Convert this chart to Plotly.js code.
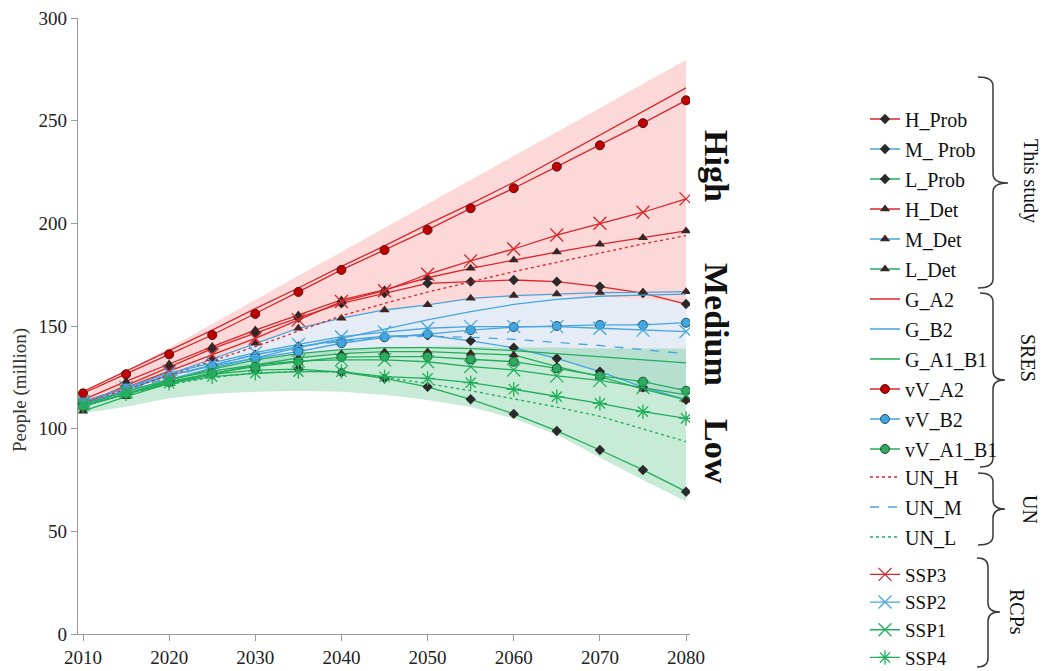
<!DOCTYPE html>
<html>
<head>
<meta charset="utf-8">
<script src="https://cdn.plot.ly/plotly-3.0.1.min.js"></script>
<style>html,body{margin:0;padding:0;background:#fff;}#chart{width:1042px;height:671px;}</style>
</head>
<body>
<div id="chart"></div>
<script>
// ---------- data ----------
const years = [2010,2015,2020,2025,2030,2035,2040,2045,2050,2055,2060,2065,2070,2075,2080];

const H_Prob   = [112,121,130,139,146.5,154,161,166,170.8,171.6,172.4,171.6,169.2,166,160.7];
const M_Prob   = [112,119,126,131,136,140,143,145,145.5,142.8,139.4,134.2,127.8,120.2,114];
const L_Prob   = [111,117,122.5,126.5,128.5,129,127.5,124.5,120.4,114.3,107.2,98.9,89.6,79.9,69.3];
const H_Det    = [114,123,131.5,140,148,155.4,162.7,167.6,173.5,178.1,182.2,186,189.8,193,196.3];
const M_Det    = [111,118.5,126.5,134,141.6,148.9,153.8,157.8,160.3,163.5,164.8,165.6,166.3,166.4,166.7];
const L_Det    = [108.5,115.6,122,126.5,131,134.5,136.5,137.5,137.5,136.7,135.9,130.2,125.3,119.2,114];
const G_A2     = [118,128,138,148,158.5,168.5,179,189,199.5,209.5,220,231.5,243,254.5,266];
const G_B2     = [112,118,124,129.5,134.5,139.5,144,148.5,153,157,160.5,163,164.5,165,165.5];
const G_A1_B1  = [111,117,123.5,129,133.5,136.5,138.5,139.5,139.5,139,138,136.5,135,133.5,132];
const vV_A2    = [117.2,126.5,136.2,145.6,155.9,166.6,177.3,187,196.8,207.3,217.1,227.6,238,248.8,259.9];
const vV_B2    = [113,120,126,130.5,134.3,137.5,141.6,144.5,146,148,149.5,150,150.5,150.5,151.6];
const vV_A1_B1 = [111,117,122.9,127,130.2,132.6,134.8,135.1,135.1,133.8,132.6,129.4,125.7,122.9,118.5];
const UN_H     = [113,119,126,133,140,147.5,155,161,166.5,171.5,176.5,181,185.5,190,194];
const UN_M     = [112,118.5,125,131,136,140,142.5,144.5,145,144.5,143.5,142,140.5,138.5,136.5];
const UN_L     = [111,117,121.5,125,127,128,127.5,125,122,118.5,114.5,110.5,106,100,93.7];
const SSP3     = [113,120,128,136,144,153,161.9,167.2,175.2,181.7,187.5,194.3,200,205.4,211.9];
const SSP2     = [113,120,127,132,137,141,144.8,147,148.9,149.7,149.7,149.7,148.9,148,147.3];
const SSP1     = [112,118,124,128,131,133,133.5,133.5,132.6,130.2,128.6,125.7,123.5,120,116.5];
const SSP4     = [111,117,122.1,125.3,127,127.8,127.8,125.3,124.5,122.4,119.2,115.6,112.3,108.3,105];

// shaded envelopes
const bandHighUpper = [116,127.7,139.4,151,162.8,174.5,186,198,209.5,221,233,244.5,256,268,279.5];
const bandHighLower = [111,118,126,133,141,148,153.5,157.5,160,162.5,164,164.5,164,163,161.5];
const bandMedUpper  = [111,118,126,133,141,148,153.5,157.5,160,162.5,164,164.5,164,163,161.5];
const bandMedLower  = [110,116,122,127,131,134,137,138.5,139.5,139.5,139,134,127.8,120.2,114];
const bandLowUpper  = [111,117,123.5,129,133.5,136.5,138.5,139.5,140,140,139.5,139.5,139,139,139];
const bandLowLower  = [107.5,110.7,114.8,117,118,118.5,118,116.5,114,110.5,105,97,86,75,64.5];

const xTicks = [2010,2020,2030,2040,2050,2060,2070,2080];
const yTicks = [0,50,100,150,200,250,300];

// ---------- styling ----------
const RED = '#D9262B', BLUE = '#45A6DF', GREEN = '#22AE5A';
const SERIF = 'Liberation Serif, Times New Roman, serif';

function band(upper, lower, color){
  return {x: years.concat(years.slice().reverse()),
          y: upper.concat(lower.slice().reverse()),
          type:'scatter', mode:'lines', fill:'toself', fillcolor:color,
          line:{width:0}, showlegend:false, hoverinfo:'skip'};
}
function series(name, y, color, legendId, opts){
  const t = {x: years, y: y, name: name, type:'scatter', legendgroup: name,
             legend: legendId,
             mode: opts.marker ? 'lines+markers' : 'lines',
             line:{color: color, width: 1.3, dash: opts.dash || 'solid'}};
  if (opts.marker) t.marker = opts.marker;
  return t;
}
const diamond = {symbol:'diamond', size:8, color:'#2a2a2a'};
const tri = {symbol:'triangle-up', size:9, color:'#3b2626'};
function circ(fill, edge){ return {symbol:'circle', size:9, color:fill, line:{color:edge, width:1}}; }
function xm(c){ return {symbol:'x-thin-open', size:13, color:c, line:{color:c, width:1.3}}; }
function star(c){ return {symbol:'asterisk-open', size:12, color:c, line:{color:c, width:1.3}}; }

const traces = [
  band(bandHighUpper, bandHighLower, '#FDD8D8'),
  band(bandMedUpper, bandMedLower, '#E6ECF6'),
  band(bandLowUpper, bandLowLower, 'rgba(100,200,140,0.36)'),
  series('H_Prob', H_Prob, RED, 'legend', {marker: diamond}),
  series('M_ Prob', M_Prob, BLUE, 'legend', {marker: diamond}),
  series('L_Prob', L_Prob, GREEN, 'legend', {marker: diamond}),
  series('H_Det', H_Det, RED, 'legend', {marker: tri}),
  series('M_Det', M_Det, BLUE, 'legend', {marker: tri}),
  series('L_Det', L_Det, GREEN, 'legend', {marker: tri}),
  series('G_A2', G_A2, RED, 'legend2', {}),
  series('G_B2', G_B2, BLUE, 'legend2', {}),
  series('G_A1_B1', G_A1_B1, GREEN, 'legend2', {}),
  series('vV_A2', vV_A2, RED, 'legend2', {marker: circ('#C00000', '#5a1010')}),
  series('vV_B2', vV_B2, BLUE, 'legend2', {marker: circ('#3FA7DD', '#2a4f6a')}),
  series('vV_A1_B1', vV_A1_B1, GREEN, 'legend2', {marker: circ('#2EAA62', '#1f4f33')}),
  series('UN_H', UN_H, RED, 'legend3', {dash:'dot'}),
  series('UN_M', UN_M, BLUE, 'legend3', {dash:'dash'}),
  series('UN_L', UN_L, GREEN, 'legend3', {dash:'dot'}),
  series('SSP3', SSP3, RED, 'legend4', {marker: xm(RED)}),
  series('SSP2', SSP2, BLUE, 'legend4', {marker: xm(BLUE)}),
  series('SSP1', SSP1, GREEN, 'legend4', {marker: xm(GREEN)}),
  series('SSP4', SSP4, GREEN, 'legend4', {marker: star(GREEN)})
];

// ---------- layout helpers (pixel -> paper / container) ----------
const W = 1042, H = 671;
const L = 78, R = 690, T = 18, B = 634;
const px = x => (x - L) / (R - L);
const py = y => (B - y) / (B - T);
const cx = x => x / W;
const cy = y => 1 - y / H;

function brace(top, bot, mid, xEnd, xSpine, xTip){
  const r = 9;
  const p = (x, y) => px(x) + ',' + py(y);
  const path = 'M' + p(xEnd, top) + ' Q' + p(xSpine, top) + ' ' + p(xSpine, top + r) +
    ' L' + p(xSpine, mid - r) + ' Q' + p(xSpine, mid) + ' ' + p(xTip, mid) +
    ' Q' + p(xSpine, mid) + ' ' + p(xSpine, mid + r) +
    ' L' + p(xSpine, bot - r) + ' Q' + p(xSpine, bot) + ' ' + p(xEnd, bot);
  return {type:'path', xref:'paper', yref:'paper', path: path,
          line:{color:'#3a3a3a', width:1.5}};
}

function rotLabel(text, x, y, size, bold, angle, color){
  return {text: bold ? '<b>' + text + '</b>' : text, xref:'paper', yref:'paper',
          x: px(x), y: py(y), xanchor:'center', yanchor:'middle', showarrow:false,
          textangle: angle, font:{family: SERIF, size: size, color: color || '#111'}};
}

function legendAt(top, size){
  return {xanchor:'left', yanchor:'top', xref:'container', yref:'container',
          x: cx(865), y: cy(top), bgcolor:'rgba(0,0,0,0)', itemwidth: 30,
          traceorder:'grouped', tracegroupgap: size >= 20 ? 1 : 0,
          font:{family: SERIF, size: size, color:'#111'}};
}

const layout = {
  width:W, height:H,
  margin:{l:L, r:W - R, t:T, b:H - B, pad:0},
  paper_bgcolor:'#fff', plot_bgcolor:'#fff',
  showlegend:true,
  legend:  legendAt(99.5, 20),
  legend2: legendAt(279.5, 20),
  legend3: legendAt(457.5, 20),
  legend4: legendAt(555.5, 19),
  xaxis:{range:[2009.42, 2080.46], tickvals: xTicks, ticktext: xTicks.map(String),
         showline:true, linecolor:'#9a9a9a', linewidth:1.3, ticks:'outside', ticklen:6,
         tickcolor:'#9a9a9a', showgrid:false, zeroline:false,
         tickfont:{family: SERIF, size:19, color:'#222'}},
  yaxis:{range:[0,300], tickvals: yTicks, showline:true, linecolor:'#9a9a9a', linewidth:1.3,
         ticks:'outside', ticklen:6, tickcolor:'#9a9a9a', showgrid:false, zeroline:false,
         tickfont:{family: SERIF, size:19, color:'#222'}},
  shapes:[
    brace(77, 288, 183, 978, 993, 1008),
    brace(293, 467, 380, 980, 993, 1005),
    brace(473, 545, 509, 978, 993, 1005),
    brace(558, 667, 612, 977, 988, 1000)
  ],
  annotations:[
    rotLabel('High', 717, 166, 34, true, 90),
    rotLabel('Medium', 717, 324, 34, true, 90),
    rotLabel('Low', 717, 451, 34, true, 90),
    rotLabel('This study', 1031, 181, 20, false, 90),
    rotLabel('SRES', 1028, 358, 20, false, 90),
    rotLabel('UN', 1030, 509, 20, false, 90),
    rotLabel('RCPs', 1017, 612, 20, false, 90),
    rotLabel('People (million)', 20, 390, 19, false, -90, '#333')
  ]
};

Plotly.newPlot('chart', traces, layout, {staticPlot:true, displayModeBar:false});
</script>
</body>
</html>
